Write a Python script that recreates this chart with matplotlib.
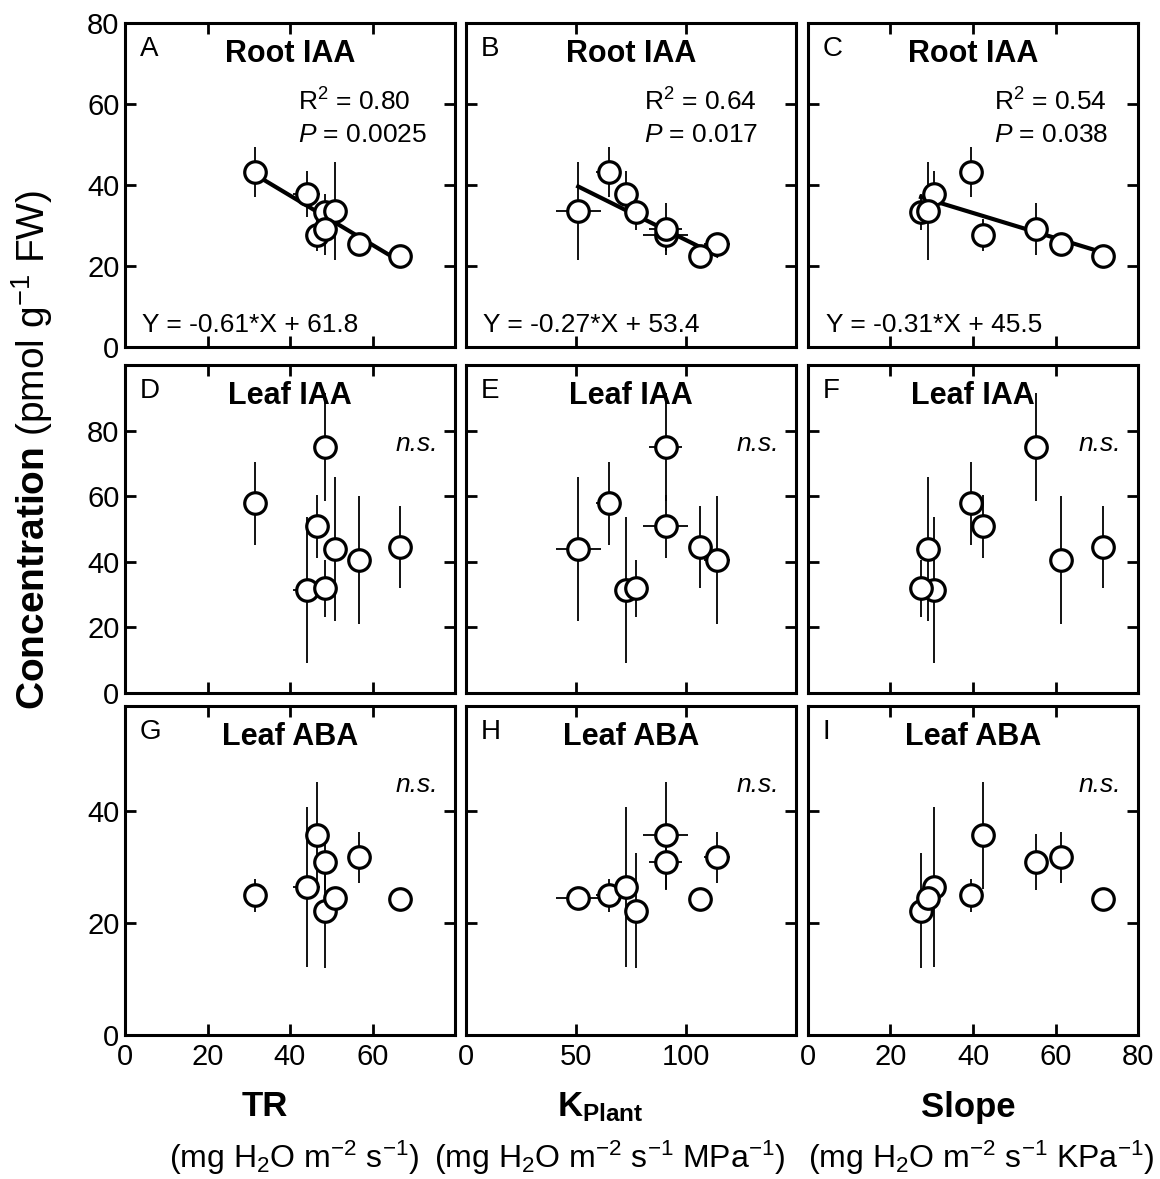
import matplotlib
matplotlib.use("Agg")
import matplotlib.pyplot as plt
import numpy as np

plt.rcParams['font.family'] = ['Liberation Sans', 'DejaVu Sans']
plt.rcParams['mathtext.fontset'] = 'custom'
plt.rcParams['mathtext.rm'] = 'Liberation Sans'
plt.rcParams['mathtext.it'] = 'Liberation Sans:italic'
plt.rcParams['mathtext.bf'] = 'Liberation Sans:bold'

# eight genotypes, same order in every panel
tr = [31.5, 44.0, 48.5, 50.8, 46.6, 48.6, 56.8, 66.6]
tr_err = [0, 3.3, 0, 0, 0, 0, 0, 0]
k_plant = [64.8, 72.5, 77.1, 51.0, 90.8, 90.8, 114.0, 106.5]
k_plant_err = [5.5, 0, 0, 10.3, 10.3, 7.5, 6.0, 0]
slope = [39.6, 30.6, 27.4, 29.2, 42.4, 55.2, 61.3, 71.6]
slope_err = [0, 0, 0, 0, 0, 0, 0, 2.5]

root_iaa = [43.2, 37.7, 33.3, 33.6, 27.6, 29.1, 25.4, 22.4]
root_iaa_err = [6.1, 5.7, 4.5, 12.0, 4.0, 6.5, 1.5, 1.0]
leaf_iaa = [57.8, 31.4, 31.9, 44.0, 50.9, 74.9, 40.5, 44.5]
leaf_iaa_err = [12.6, 22.4, 8.7, 21.9, 9.6, 16.5, 19.6, 12.6]
leaf_aba = [24.9, 26.4, 22.2, 24.4, 35.6, 30.9, 31.7, 24.3]
leaf_aba_err = [3.0, 14.3, 10.3, 0.5, 9.5, 5.0, 4.6, 0.5]

# regression for root IAA (slope, intercept, R2, P) per x variable
fits = [(-0.61, 61.8, '0.80', '0.0025'),
        (-0.27, 53.4, '0.64', '0.017'),
        (-0.31, 45.5, '0.54', '0.038')]

row_names = ['Root IAA', 'Leaf IAA', 'Leaf ABA']
row_y = [root_iaa, leaf_iaa, leaf_aba]
row_yerr = [root_iaa_err, leaf_iaa_err, leaf_aba_err]
row_ylim = [80, 100, 58.7]
row_yticks = [[0, 20, 40, 60, 80], [0, 20, 40, 60, 80], [0, 20, 40]]

col_x = [tr, k_plant, slope]
col_xerr = [tr_err, k_plant_err, slope_err]
col_xlim = [80, 150, 80]
col_xticks = [[0, 20, 40, 60], [0, 50, 100], [0, 20, 40, 60, 80]]

letters = ['A', 'B', 'C', 'D', 'E', 'F', 'G', 'H', 'I']
stat_x = [0.525, 0.54, 0.565]
eq_x = [0.05, 0.05, 0.055]

W, H = 1160, 1179
fig = plt.figure(figsize=(W / 100, H / 100), dpi=100)

col_left = [125, 466, 808]
col_w = 330
row_top = [23, 365, 706]
row_h = [324, 328, 329]

for r in range(3):
    for c in range(3):
        ax = fig.add_axes([col_left[c] / W, 1 - (row_top[r] + row_h[r]) / H,
                           col_w / W, row_h[r] / H])
        x = col_x[c]
        y = row_y[r]
        if r == 0:
            a, b, r2, p = fits[c]
            xs = np.array([min(x), max(x)])
            ax.plot(xs, a * xs + b, color='black', lw=3, zorder=2)
            ax.text(stat_x[c], 0.757, r'R$^2$ = ' + r2, transform=ax.transAxes,
                    fontsize=19, va='center', ha='left')
            ax.text(stat_x[c], 0.654, r'$\mathit{P}$ = ' + p, transform=ax.transAxes,
                    fontsize=19, va='center', ha='left')
            eq = 'Y = %.2f*X + %.1f' % (a, b)
            ax.text(eq_x[c], 0.068, eq, transform=ax.transAxes,
                    fontsize=19, va='center', ha='left')
        else:
            ax.text(0.95, 0.76, 'n.s.', transform=ax.transAxes, fontsize=19,
                    style='italic', ha='right', va='center')

        xerr = [e if e > 0 else np.nan for e in col_xerr[c]]
        ax.errorbar(x, y, yerr=row_yerr[r], xerr=xerr, fmt='o', ms=15.5,
                    mfc='white', mec='black', mew=2.3, ecolor='black',
                    elinewidth=1.3, capsize=0, zorder=3)

        ax.text(0.045, 0.96, letters[r * 3 + c], transform=ax.transAxes,
                fontsize=20, va='top', ha='left')
        ax.text(0.5, 0.905, row_names[r], transform=ax.transAxes, fontsize=22,
                fontweight='bold', va='center', ha='center')

        ax.set_xlim(0, col_xlim[c])
        ax.set_ylim(0, row_ylim[r])
        ax.set_xticks(col_xticks[c])
        ax.set_yticks(row_yticks[r])
        ax.tick_params(direction='in', length=8, width=2, top=True, right=True,
                       labelsize=21)
        ax.tick_params(axis='x', pad=6)
        ax.tick_params(axis='y', pad=4)
        for s in ax.spines.values():
            s.set_linewidth(2.2)
        if r < 2:
            ax.tick_params(labelbottom=False)
        if c > 0:
            ax.tick_params(labelleft=False)


def ftext(px, py, s, **kw):
    fig.text(px / W, 1 - py / H, s, ha='center', va='center', **kw)


ftext(265, 1107, 'TR', fontsize=25, fontweight='bold')
ftext(600, 1107, r'$\mathbf{K_{Plant}}$', fontsize=25)
ftext(968, 1107, 'Slope', fontsize=25, fontweight='bold')
ftext(294, 1158, r'(mg H$_2$O m$^{-2}$ s$^{-1}$)', fontsize=23)
ftext(610, 1158, r'(mg H$_2$O m$^{-2}$ s$^{-1}$ MPa$^{-1}$)', fontsize=23)
ftext(981, 1158, r'(mg H$_2$O m$^{-2}$ s$^{-1}$ KPa$^{-1}$)', fontsize=23)
ftext(32, 450, r'$\mathbf{Concentration}$ (pmol g$^{-1}$ FW)', fontsize=28,
      rotation=90)

fig.savefig('out.png', dpi=100)
